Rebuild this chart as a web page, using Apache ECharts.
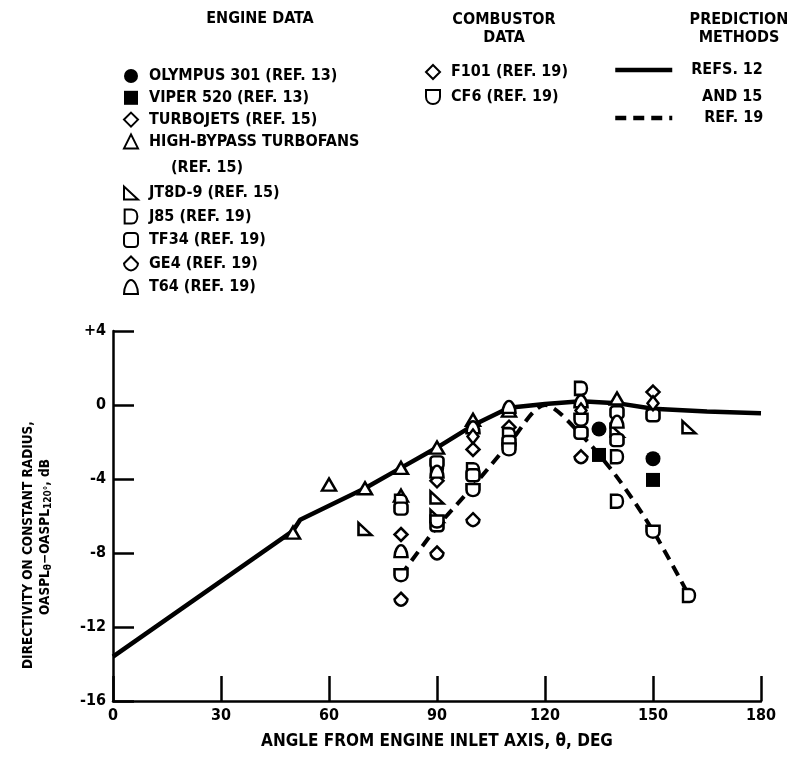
<!DOCTYPE html>
<html>
<head>
<meta charset="utf-8">
<script src="https://cdn.jsdelivr.net/npm/echarts@6/dist/echarts.min.js"></script>
<style>
  html, body { margin: 0; padding: 0; background: #fff; }
  #chart { width: 793px; height: 759px; }
</style>
</head>
<body>
<div id="chart"></div>
<script>
// angle (deg) vs directivity (dB)
const olympus = [[135, -1.3], [150, -2.9]]
const viper = [[135, -2.7], [150, -4.05]]
const turbojets = [[80, -7.0], [90, -4.1], [100, -2.4], [110, -1.2], [150, 0.7]]
const highBypass = [[50, -6.9], [60, -4.3], [70, -4.5], [80, -3.4], [80, -4.9], [90, -2.3], [100, -0.8], [110, -0.3], [140, 0.35]]
const jt8d = [[70, -6.7], [90, -5.0], [90, -6.0], [140, -1.4], [160, -1.2]]
const j85 = [[80, -5.2], [90, -3.4], [100, -3.5], [110, -1.6], [130, 0.9], [140, -2.8], [140, -5.2], [160, -10.3]]
const tf34 = [[80, -5.6], [90, -3.1], [90, -6.5], [100, -3.8], [110, -2.0], [130, -1.5], [140, -0.4], [140, -1.9], [150, -0.55]]
const ge4 = [[80, -10.5], [90, -8.0], [100, -6.2], [130, -2.8]]
const t64 = [[80, -7.9], [90, -3.6], [100, -1.2], [110, -0.1], [130, 0.2], [140, -0.9]]
const f101 = [[100, -1.7], [130, -0.3], [150, 0.1]]
const cf6 = [[80, -9.2], [90, -6.3], [100, -4.6], [110, -2.4], [130, -0.8], [150, -6.85]]

const refs12and15 = [[0, -13.6], [50, -6.8], [52, -6.2], [70, -4.5], [80, -3.4], [90, -2.3], [100, -1.1], [110, -0.15], [120, 0.05], [130, 0.2], [140, 0.1], [150, -0.2], [165, -0.35], [180, -0.45]]
const ref19 = [[80, -9.2], [90, -6.6], [100, -4.4], [110, -2.1], [120, 0], [130, -1.6], [140, -3.9], [150, -6.8], [160, -10.3]]

const xTicks = { min: 0, max: 180, interval: 30 }
const yTicks = { min: -16, max: 4, interval: 4 }

const FONT = "'DejaVu Sans Condensed', 'Liberation Sans Narrow', 'Liberation Sans', sans-serif"
const txt = (size) => ({ fontFamily: FONT, fontWeight: 'bold', fontSize: size, color: '#000' })

const SYM = {
  jt8d: 'path://M0,0 L0,12 L13,12 Z',
  j85: 'path://M0,0 L6,0 C12.5,0 12.5,12 6,12 L0,12 Z',
  t64: 'path://M6,0 C9,0 12,6 12,12 L0,12 C0,6 3,0 6,0 Z',
  ge4: 'path://M6,0 L12,6 C12,9 8.5,12 6,12 C3.5,12 0,9 0,6 Z',
  cf6: 'path://M0,0 L12,0 L12,6 C12,10 9,12 6,12 C3,12 0,10 0,6 Z'
}

function scatter(name, data, symbol, size, filled) {
  return {
    name, type: 'scatter', data, symbol, symbolSize: size || 13, z: 3,
    emphasis: { disabled: true },
    itemStyle: filled
      ? { color: '#000', borderWidth: 0, opacity: 1 }
      : { color: '#fff', borderColor: '#000', borderWidth: 2.5, opacity: 1 }
  }
}

const LEG_FONT = 16
const legText = (pad) => Object.assign(txt(LEG_FONT), { lineHeight: 16, padding: [0, 0, 0, pad] })
const legendBase = {
  orient: 'vertical', selectedMode: false, itemWidth: 14, itemHeight: 14, padding: 0,
  textStyle: legText(6)
}
const lineLegend = {
  orient: 'vertical', selectedMode: false, itemWidth: 57, itemHeight: 14, padding: 0,
  itemStyle: { opacity: 0 },
  lineStyle: { width: 4.5, color: '#000' }
}
const label = (text, x, y, size, align) => ({
  type: 'text', x, y,
  style: Object.assign(txt(size || LEG_FONT), { text, align: align || 'center', verticalAlign: 'middle', fill: '#000' })
})

const chart = echarts.init(document.getElementById('chart'), null, { renderer: 'canvas' })

chart.setOption({
  animation: false,
  backgroundColor: '#fff',
  grid: { left: 113, right: 32, top: 331, bottom: 58, containLabel: false },
  xAxis: {
    type: 'value', ...xTicks,
    name: 'ANGLE FROM ENGINE INLET AXIS, θ, DEG',
    nameLocation: 'middle', nameGap: 32, nameTextStyle: txt(17),
    axisLine: { show: true, onZero: false, lineStyle: { color: '#000', width: 2.5 } },
    axisTick: { show: true, inside: true, length: 25, lineStyle: { color: '#000', width: 2.5 } },
    axisLabel: Object.assign(txt(16), { margin: 7 }),
    splitLine: { show: false }
  },
  yAxis: {
    type: 'value', ...yTicks,
    axisLine: { show: true, onZero: false, lineStyle: { color: '#000', width: 2.5 } },
    axisTick: { show: true, inside: true, length: 21, lineStyle: { color: '#000', width: 2.5 } },
    axisLabel: Object.assign(txt(16), { margin: 7, formatter: v => (v > 0 ? '+' + v : String(v)) }),
    splitLine: { show: false }
  },
  legend: [
    Object.assign({}, legendBase, {
      left: 123, top: 68, itemGap: 5.8,
      data: ['OLYMPUS 301 (REF. 13)', 'VIPER 520 (REF. 13)', 'TURBOJETS (REF. 15)', 'HIGH-BYPASS TURBOFANS']
    }),
    Object.assign({}, legendBase, {
      left: 123, top: 185, itemGap: 7.5,
      data: ['JT8D-9 (REF. 15)', 'J85 (REF. 19)', 'TF34 (REF. 19)', 'GE4 (REF. 19)', 'T64 (REF. 19)']
    }),
    Object.assign({}, legendBase, {
      left: 425, top: 64, itemGap: 9,
      data: ['F101 (REF. 19)', 'CF6 (REF. 19)']
    }),
    Object.assign({}, lineLegend, { left: 613, top: 62, textStyle: legText(14), data: ['REFS. 12'] }),
    Object.assign({}, lineLegend, { left: 613, top: 110, textStyle: legText(27), data: ['REF. 19'] })
  ],
  graphic: [
    label('ENGINE DATA', 260, 19),
    label('COMBUSTOR', 504, 20),
    label('DATA', 504, 38),
    label('PREDICTION', 739, 20),
    label('METHODS', 739, 38),
    label('(REF. 15)', 171, 168, LEG_FONT, 'left'),
    label('AND 15', 702, 97, LEG_FONT, 'left'),
    {
      type: 'text', x: 28, y: 545, rotation: Math.PI / 2,
      style: Object.assign(txt(13.5), { text: 'DIRECTIVITY ON CONSTANT RADIUS,', align: 'center', verticalAlign: 'middle', fill: '#000' })
    },
    {
      type: 'text', x: 45, y: 537, rotation: Math.PI / 2,
      style: {
        text: '{a|OASPL}{s|θ}{a|−OASPL}{s|120°}{a|, dB}', align: 'center', verticalAlign: 'middle',
        rich: {
          a: Object.assign(txt(13.5), { fill: '#000' }),
          s: Object.assign(txt(10), { fill: '#000', padding: [6, 0, 0, 0] })
        }
      }
    }
  ],
  series: [
    {
      name: 'REFS. 12', type: 'line', data: refs12and15, symbol: 'none', z: 2,
      emphasis: { disabled: true },
      itemStyle: { color: '#000' },
      lineStyle: { color: '#000', width: 4.5 }
    },
    {
      name: 'REF. 19', type: 'line', data: ref19, symbol: 'none', smooth: 0.3, z: 2,
      emphasis: { disabled: true },
      itemStyle: { color: '#000' },
      lineStyle: { color: '#000', width: 4, type: [11, 7] }
    },
    scatter('OLYMPUS 301 (REF. 13)', olympus, 'circle', 15, true),
    scatter('VIPER 520 (REF. 13)', viper, 'rect', 14, true),
    scatter('TURBOJETS (REF. 15)', turbojets, 'diamond', [13, 13]),
    scatter('HIGH-BYPASS TURBOFANS', highBypass, 'triangle', [14, 12]),
    scatter('JT8D-9 (REF. 15)', jt8d, SYM.jt8d, [13, 12]),
    scatter('J85 (REF. 19)', j85, SYM.j85, [12, 13]),
    scatter('TF34 (REF. 19)', tf34, 'roundRect', [13, 12]),
    scatter('GE4 (REF. 19)', ge4, SYM.ge4, [13, 13]),
    scatter('T64 (REF. 19)', t64, SYM.t64, [13, 12]),
    scatter('F101 (REF. 19)', f101, 'diamond', [11, 14]),
    scatter('CF6 (REF. 19)', cf6, SYM.cf6, [13, 12])
  ]
})
</script>
</body>
</html>
